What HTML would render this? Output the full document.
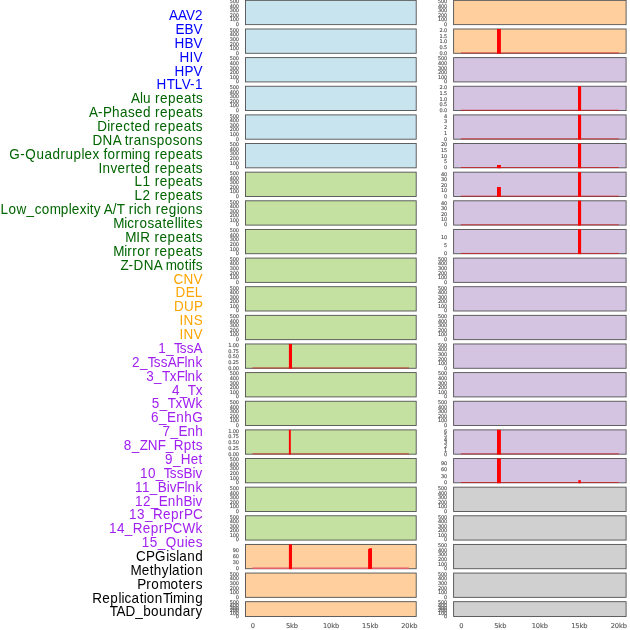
<!DOCTYPE html>
<html lang="en"><head><meta charset="utf-8"><title>Genomic feature tracks</title>
<style>html,body{margin:0;padding:0;background:#fff}svg{display:block}.lab{font-family:"Liberation Sans",Arial,Helvetica,sans-serif;font-size:13.5px;text-anchor:start}.yt{font-family:"DejaVu Sans","Liberation Sans",sans-serif;font-size:5.0px;text-anchor:end;fill:#555555;stroke:#555555;stroke-width:0.14px;letter-spacing:-0.15px}.xt{font-family:"DejaVu Sans","Liberation Sans",sans-serif;font-size:6.7px;text-anchor:middle;fill:#555555;stroke:#555555;stroke-width:0.1px;letter-spacing:-0.1px}</style></head><body>
<svg width="630" height="630" viewBox="0 0 630 630">
<rect width="630" height="630" fill="#ffffff"/>
<g class="lab">
<text transform="matrix(1 0 0 1.075 0 19.80)" x="168.97 178.00 186.03 195.06" y="0" fill="#0000ff">AAV2</text>
<text transform="matrix(1 0 0 1.075 0 33.80)" x="175.60 184.55 193.50" y="0" fill="#0000ff">EBV</text>
<text transform="matrix(1 0 0 1.075 0 47.80)" x="174.60 184.55 193.50" y="0" fill="#0000ff">HBV</text>
<text transform="matrix(1 0 0 1.075 0 61.80)" x="179.60 189.54 193.51" y="0" fill="#0000ff">HIV</text>
<text transform="matrix(1 0 0 1.075 0 75.80)" x="174.60 184.55 193.50" y="0" fill="#0000ff">HPV</text>
<text transform="matrix(1 0 0 1.075 0 88.80)" x="156.58 166.69 174.77 181.84 189.93 194.98" y="0" fill="#0000ff">HTLV-1</text>
<text transform="matrix(1 0 0 1.075 0 102.80)" x="130.97 139.96 142.96 150.95 154.95 159.94 167.93 175.92 183.91 191.90 195.90" y="0" fill="#006400">Alu repeats</text>
<text transform="matrix(1 0 0 1.075 0 116.80)" x="88.97 97.97 102.96 111.96 119.95 127.94 134.94 142.93 150.93 154.92 159.92 167.91 175.91 183.90 191.90 195.89" y="0" fill="#006400">A-Phased repeats</text>
<text transform="matrix(1 0 0 1.075 0 130.80)" x="97.18 107.25 110.27 115.30 123.36 130.41 134.43 142.49 150.54 154.57 159.60 167.66 175.71 183.76 191.82 195.84" y="0" fill="#006400">Directed repeats</text>
<text transform="matrix(1 0 0 1.075 0 144.80)" x="92.59 102.62 112.64 120.66 124.68 128.69 133.70 141.72 149.74 156.76 164.79 172.81 179.83 187.85 195.87" y="0" fill="#006400">DNA transposons</text>
<text transform="matrix(1 0 0 1.075 0 158.80)" x="9.32 20.35 25.37 36.40 44.42 52.45 60.47 65.48 73.51 81.53 84.54 92.56 99.58 103.60 107.61 115.63 120.65 131.68 134.69 142.71 150.74 154.75 159.76 167.79 175.81 183.83 191.86 195.87" y="0" fill="#006400">G-Quadruplex forming repeats</text>
<text transform="matrix(1 0 0 1.075 0 172.80)" x="98.45 102.46 110.50 117.53 125.56 130.58 134.60 142.63 150.67 154.69 159.71 167.74 175.78 183.81 191.84 195.86" y="0" fill="#006400">Inverted repeats</text>
<text transform="matrix(1 0 0 1.075 0 185.80)" x="134.59 142.62 150.66 154.68 159.70 167.73 175.77 183.81 191.84 195.86" y="0" fill="#006400">L1 repeats</text>
<text transform="matrix(1 0 0 1.075 0 199.80)" x="134.59 142.62 150.66 154.68 159.70 167.73 175.77 183.81 191.84 195.86" y="0" fill="#006400">L2 repeats</text>
<text transform="matrix(1 0 0 1.075 0 213.80)" x="0.59 8.60 16.61 26.63 34.64 41.65 49.66 60.68 68.69 71.69 79.71 86.72 89.72 93.73 100.74 103.74 112.76 116.76 124.77 128.78 133.79 136.79 143.80 151.81 155.82 160.83 168.84 176.85 179.86 187.87 195.88" y="0" fill="#006400">Low_complexity A/T rich regions</text>
<text transform="matrix(1 0 0 1.075 0 227.80)" x="113.18 124.27 127.29 134.35 139.39 147.45 154.51 162.57 166.61 174.67 177.69 180.72 183.74 187.77 195.84" y="0" fill="#006400">Microsatellites</text>
<text transform="matrix(1 0 0 1.075 0 241.80)" x="125.18 136.28 140.32 150.41 154.45 159.50 167.57 175.64 183.72 191.79 195.83" y="0" fill="#006400">MIR repeats</text>
<text transform="matrix(1 0 0 1.075 0 255.80)" x="113.18 124.27 127.29 132.33 137.37 145.44 150.48 154.51 159.55 167.61 175.68 183.74 191.80 195.84" y="0" fill="#006400">Mirror repeats</text>
<text transform="matrix(1 0 0 1.075 0 269.80)" x="120.57 128.60 133.62 143.66 153.70 161.73 165.75 176.79 184.82 188.84 191.85 195.86" y="0" fill="#006400">Z-DNA motifs</text>
<text transform="matrix(1 0 0 1.075 0 283.80)" x="173.62 183.56 193.51" y="0" fill="#ffa500">CNV</text>
<text transform="matrix(1 0 0 1.075 0 296.80)" x="175.58 185.68 194.77" y="0" fill="#ffa500">DEL</text>
<text transform="matrix(1 0 0 1.075 0 310.80)" x="173.88 183.96 194.05" y="0" fill="#ffa500">DUP</text>
<text transform="matrix(1 0 0 1.075 0 324.80)" x="179.42 183.53 193.80" y="0" fill="#ffa500">INS</text>
<text transform="matrix(1 0 0 1.075 0 338.80)" x="179.45 183.45 193.46" y="0" fill="#ffa500">INV</text>
<text transform="matrix(1 0 0 1.075 0 352.80)" x="158.29 166.14 173.98 179.87 186.73 193.60" y="0" fill="#a020f0">1_TssA</text>
<text transform="matrix(1 0 0 1.075 0 366.80)" x="132.03 139.95 147.88 153.83 160.76 167.70 176.62 184.54 187.52 195.44" y="0" fill="#a020f0">2_TssAFlnk</text>
<text transform="matrix(1 0 0 1.075 0 380.80)" x="146.19 154.08 161.96 169.85 176.75 184.64 187.59 195.48" y="0" fill="#a020f0">3_TxFlnk</text>
<text transform="matrix(1 0 0 1.075 0 394.80)" x="171.99 179.88 187.76 195.64" y="0" fill="#a020f0">4_Tx</text>
<text transform="matrix(1 0 0 1.075 0 407.80)" x="151.76 159.70 167.64 175.58 182.53 195.43" y="0" fill="#a020f0">5_TxWk</text>
<text transform="matrix(1 0 0 1.075 0 421.80)" x="151.01 159.07 167.13 176.21 184.27 192.33" y="0" fill="#a020f0">6_EnhG</text>
<text transform="matrix(1 0 0 1.075 0 435.80)" x="162.61 170.55 178.48 187.40 195.34" y="0" fill="#a020f0">7_Enh</text>
<text transform="matrix(1 0 0 1.075 0 449.80)" x="123.71 131.73 139.75 147.77 157.79 165.81 173.82 183.85 191.86 195.87" y="0" fill="#a020f0">8_ZNF_Rpts</text>
<text transform="matrix(1 0 0 1.075 0 463.80)" x="165.08 172.95 180.83 190.68 198.56" y="0" fill="#a020f0">9_Het</text>
<text transform="matrix(1 0 0 1.075 0 477.80)" x="139.98 147.91 155.84 163.78 169.73 176.67 183.61 192.53 195.51" y="0" fill="#a020f0">10_TssBiv</text>
<text transform="matrix(1 0 0 1.075 0 491.80)" x="134.98 141.92 149.85 157.78 166.70 169.67 176.61 184.54 187.51 195.44" y="0" fill="#a020f0">11_BivFlnk</text>
<text transform="matrix(1 0 0 1.075 0 505.80)" x="134.98 142.92 150.85 158.79 167.72 175.66 183.59 192.52 195.50" y="0" fill="#a020f0">12_EnhBiv</text>
<text transform="matrix(1 0 0 1.075 0 518.80)" x="128.97 136.96 144.96 152.95 162.95 170.94 178.93 183.93 192.92" y="0" fill="#a020f0">13_ReprPC</text>
<text transform="matrix(1 0 0 1.075 0 532.80)" x="108.98 116.93 124.88 132.82 142.76 150.71 158.66 163.63 172.57 182.51 195.42" y="0" fill="#a020f0">14_ReprPCWk</text>
<text transform="matrix(1 0 0 1.075 0 546.80)" x="141.67 149.70 157.73 165.75 176.79 184.82 187.84 195.86" y="0" fill="#a020f0">15_Quies</text>
<text transform="matrix(1 0 0 1.075 0 560.80)" x="136.01 146.05 155.09 166.13 169.14 176.17 179.18 187.21 195.24" y="0" fill="#000000">CPGisland</text>
<text transform="matrix(1 0 0 1.075 0 574.80)" x="130.58 141.69 149.77 153.81 161.88 168.95 171.98 180.06 184.10 187.13 195.21" y="0" fill="#000000">Methylation</text>
<text transform="matrix(1 0 0 1.075 0 588.80)" x="137.18 146.28 151.33 159.42 170.54 178.63 182.67 190.76 195.82" y="0" fill="#000000">Promoters</text>
<text transform="matrix(1 0 0 1.075 0 602.80)" x="92.18 102.28 110.36 118.44 121.47 124.50 131.57 139.65 143.69 146.72 154.80 162.88 169.95 172.98 184.09 187.12 195.20" y="0" fill="#000000">ReplicationTiming</text>
<text transform="matrix(1 0 0 1.075 0 615.80)" x="109.70 116.61 125.48 135.35 143.24 151.13 159.02 166.91 174.81 182.70 190.59 195.52" y="0" fill="#000000">TAD_boundary</text>
</g>
<rect x="245.50" y="0.35" width="170.70" height="24.30" fill="#c8e4ee" stroke="#505050" stroke-width="0.9"/>
<g class="yt">
<text x="238.90" y="26">0</text>
<text x="238.90" y="21">100</text>
<text x="238.90" y="17">200</text>
<text x="238.90" y="12">300</text>
<text x="238.90" y="8">400</text>
<text x="238.90" y="3">500</text>
</g>
<rect x="245.50" y="28.99" width="170.70" height="24.30" fill="#c8e4ee" stroke="#505050" stroke-width="0.9"/>
<g class="yt">
<text x="238.90" y="55">0</text>
<text x="238.90" y="50">100</text>
<text x="238.90" y="46">200</text>
<text x="238.90" y="41">300</text>
<text x="238.90" y="36">400</text>
<text x="238.90" y="32">500</text>
</g>
<rect x="245.50" y="57.62" width="170.70" height="24.30" fill="#c8e4ee" stroke="#505050" stroke-width="0.9"/>
<g class="yt">
<text x="238.90" y="83">0</text>
<text x="238.90" y="79">100</text>
<text x="238.90" y="74">200</text>
<text x="238.90" y="70">300</text>
<text x="238.90" y="65">400</text>
<text x="238.90" y="60">500</text>
</g>
<rect x="245.50" y="86.25" width="170.70" height="24.30" fill="#c8e4ee" stroke="#505050" stroke-width="0.9"/>
<g class="yt">
<text x="238.90" y="112">0</text>
<text x="238.90" y="107">100</text>
<text x="238.90" y="103">200</text>
<text x="238.90" y="98">300</text>
<text x="238.90" y="94">400</text>
<text x="238.90" y="89">500</text>
</g>
<rect x="245.50" y="114.89" width="170.70" height="24.30" fill="#c8e4ee" stroke="#505050" stroke-width="0.9"/>
<g class="yt">
<text x="238.90" y="141">0</text>
<text x="238.90" y="136">100</text>
<text x="238.90" y="131">200</text>
<text x="238.90" y="127">300</text>
<text x="238.90" y="122">400</text>
<text x="238.90" y="118">500</text>
</g>
<rect x="245.50" y="143.53" width="170.70" height="24.30" fill="#c8e4ee" stroke="#505050" stroke-width="0.9"/>
<g class="yt">
<text x="238.90" y="169">0</text>
<text x="238.90" y="165">100</text>
<text x="238.90" y="160">200</text>
<text x="238.90" y="155">300</text>
<text x="238.90" y="151">400</text>
<text x="238.90" y="146">500</text>
</g>
<rect x="245.50" y="172.16" width="170.70" height="24.30" fill="#c5e1a1" stroke="#505050" stroke-width="0.9"/>
<g class="yt">
<text x="238.90" y="198">0</text>
<text x="238.90" y="193">100</text>
<text x="238.90" y="189">200</text>
<text x="238.90" y="184">300</text>
<text x="238.90" y="180">400</text>
<text x="238.90" y="175">500</text>
</g>
<rect x="245.50" y="200.80" width="170.70" height="24.30" fill="#c5e1a1" stroke="#505050" stroke-width="0.9"/>
<g class="yt">
<text x="238.90" y="226">0</text>
<text x="238.90" y="222">100</text>
<text x="238.90" y="217">200</text>
<text x="238.90" y="213">300</text>
<text x="238.90" y="208">400</text>
<text x="238.90" y="204">500</text>
</g>
<rect x="245.50" y="229.43" width="170.70" height="24.30" fill="#c5e1a1" stroke="#505050" stroke-width="0.9"/>
<g class="yt">
<text x="238.90" y="255">0</text>
<text x="238.90" y="251">100</text>
<text x="238.90" y="246">200</text>
<text x="238.90" y="241">300</text>
<text x="238.90" y="237">400</text>
<text x="238.90" y="232">500</text>
</g>
<rect x="245.50" y="258.07" width="170.70" height="24.30" fill="#c5e1a1" stroke="#505050" stroke-width="0.9"/>
<g class="yt">
<text x="238.90" y="284">0</text>
<text x="238.90" y="279">100</text>
<text x="238.90" y="275">200</text>
<text x="238.90" y="270">300</text>
<text x="238.90" y="265">400</text>
<text x="238.90" y="261">500</text>
</g>
<rect x="245.50" y="286.70" width="170.70" height="24.30" fill="#c5e1a1" stroke="#505050" stroke-width="0.9"/>
<g class="yt">
<text x="238.90" y="312">0</text>
<text x="238.90" y="308">100</text>
<text x="238.90" y="303">200</text>
<text x="238.90" y="299">300</text>
<text x="238.90" y="294">400</text>
<text x="238.90" y="290">500</text>
</g>
<rect x="245.50" y="315.34" width="170.70" height="24.30" fill="#c5e1a1" stroke="#505050" stroke-width="0.9"/>
<g class="yt">
<text x="238.90" y="341">0</text>
<text x="238.90" y="336">100</text>
<text x="238.90" y="332">200</text>
<text x="238.90" y="327">300</text>
<text x="238.90" y="323">400</text>
<text x="238.90" y="318">500</text>
</g>
<rect x="245.50" y="343.97" width="170.70" height="24.30" fill="#c5e1a1" stroke="#505050" stroke-width="0.9"/>
<rect x="252.40" y="367.47" width="156.50" height="0.9" fill="#d81010" opacity="0.75"/>
<rect x="288.90" y="343.92" width="3.10" height="24.75" fill="#ff0000"/>
<g class="yt">
<text x="238.90" y="370">0.00</text>
<text x="238.90" y="364">0.25</text>
<text x="238.90" y="358">0.50</text>
<text x="238.90" y="353">0.75</text>
<text x="238.90" y="347">1.00</text>
</g>
<rect x="245.50" y="372.61" width="170.70" height="24.30" fill="#c5e1a1" stroke="#505050" stroke-width="0.9"/>
<g class="yt">
<text x="238.90" y="398">0</text>
<text x="238.90" y="394">100</text>
<text x="238.90" y="389">200</text>
<text x="238.90" y="385">300</text>
<text x="238.90" y="380">400</text>
<text x="238.90" y="375">500</text>
</g>
<rect x="245.50" y="401.24" width="170.70" height="24.30" fill="#c5e1a1" stroke="#505050" stroke-width="0.9"/>
<g class="yt">
<text x="238.90" y="427">0</text>
<text x="238.90" y="422">100</text>
<text x="238.90" y="418">200</text>
<text x="238.90" y="413">300</text>
<text x="238.90" y="409">400</text>
<text x="238.90" y="404">500</text>
</g>
<rect x="245.50" y="429.88" width="170.70" height="24.30" fill="#c5e1a1" stroke="#505050" stroke-width="0.9"/>
<rect x="252.40" y="453.38" width="156.50" height="0.9" fill="#d81010" opacity="0.75"/>
<rect x="288.90" y="429.83" width="1.90" height="24.75" fill="#ff0000"/>
<g class="yt">
<text x="238.90" y="456">0.00</text>
<text x="238.90" y="450">0.25</text>
<text x="238.90" y="444">0.50</text>
<text x="238.90" y="438">0.75</text>
<text x="238.90" y="433">1.00</text>
</g>
<rect x="245.50" y="458.51" width="170.70" height="24.30" fill="#c5e1a1" stroke="#505050" stroke-width="0.9"/>
<g class="yt">
<text x="238.90" y="484">0</text>
<text x="238.90" y="480">100</text>
<text x="238.90" y="475">200</text>
<text x="238.90" y="470">300</text>
<text x="238.90" y="466">400</text>
<text x="238.90" y="461">500</text>
</g>
<rect x="245.50" y="487.15" width="170.70" height="24.30" fill="#c5e1a1" stroke="#505050" stroke-width="0.9"/>
<g class="yt">
<text x="238.90" y="513">0</text>
<text x="238.90" y="508">100</text>
<text x="238.90" y="504">200</text>
<text x="238.90" y="499">300</text>
<text x="238.90" y="495">400</text>
<text x="238.90" y="490">500</text>
</g>
<rect x="245.50" y="515.78" width="170.70" height="24.30" fill="#c5e1a1" stroke="#505050" stroke-width="0.9"/>
<g class="yt">
<text x="238.90" y="541">0</text>
<text x="238.90" y="537">100</text>
<text x="238.90" y="532">200</text>
<text x="238.90" y="528">300</text>
<text x="238.90" y="523">400</text>
<text x="238.90" y="519">500</text>
</g>
<rect x="245.50" y="544.42" width="170.70" height="24.30" fill="#ffcf9e" stroke="#505050" stroke-width="0.9"/>
<rect x="252.40" y="567.47" width="156.50" height="1.6" fill="#e6606c"/>
<rect x="288.90" y="544.37" width="3.10" height="24.75" fill="#ff0000"/>
<path d="M368.10 569.12 V549.11 H369.00 V548.21 H372.00 V569.12 Z" fill="#ff0000"/>
<g class="yt">
<text x="238.90" y="570">0</text>
<text x="238.90" y="564">30</text>
<text x="238.90" y="558">60</text>
<text x="238.90" y="552">90</text>
</g>
<rect x="245.50" y="573.05" width="170.70" height="24.30" fill="#ffcf9e" stroke="#505050" stroke-width="0.9"/>
<g class="yt">
<text x="238.90" y="599">0</text>
<text x="238.90" y="594">100</text>
<text x="238.90" y="590">200</text>
<text x="238.90" y="585">300</text>
<text x="238.90" y="580">400</text>
<text x="238.90" y="576">500</text>
</g>
<rect x="245.50" y="601.69" width="170.70" height="14.85" fill="#ffcf9e" stroke="#505050" stroke-width="0.9"/>
<g class="yt">
<text x="238.90" y="618">0</text>
<text x="238.90" y="615">100</text>
<text x="238.90" y="612">200</text>
<text x="238.90" y="610">300</text>
<text x="238.90" y="607">400</text>
<text x="238.90" y="604">500</text>
</g>
<g class="xt">
<text x="252.85" y="627.8">0</text>
<text x="291.97" y="627.8">5kb</text>
<text x="331.10" y="627.8">10kb</text>
<text x="370.22" y="627.8">15kb</text>
<text x="409.35" y="627.8">20kb</text>
</g>
<rect x="453.60" y="0.35" width="172.50" height="24.30" fill="#ffcf9e" stroke="#505050" stroke-width="0.9"/>
<g class="yt">
<text x="447.00" y="26">0</text>
<text x="447.00" y="21">100</text>
<text x="447.00" y="17">200</text>
<text x="447.00" y="12">300</text>
<text x="447.00" y="8">400</text>
<text x="447.00" y="3">500</text>
</g>
<rect x="453.60" y="28.99" width="172.50" height="24.30" fill="#ffcf9e" stroke="#505050" stroke-width="0.9"/>
<rect x="460.90" y="52.49" width="158.00" height="0.9" fill="#d81010" opacity="0.75"/>
<rect x="497.00" y="28.94" width="3.90" height="24.75" fill="#ff0000"/>
<g class="yt">
<text x="447.00" y="55">0.0</text>
<text x="447.00" y="49">0.5</text>
<text x="447.00" y="43">1.0</text>
<text x="447.00" y="38">1.5</text>
<text x="447.00" y="32">2.0</text>
</g>
<rect x="453.60" y="57.62" width="172.50" height="24.30" fill="#d4c4e2" stroke="#505050" stroke-width="0.9"/>
<g class="yt">
<text x="447.00" y="83">0</text>
<text x="447.00" y="79">100</text>
<text x="447.00" y="74">200</text>
<text x="447.00" y="70">300</text>
<text x="447.00" y="65">400</text>
<text x="447.00" y="60">500</text>
</g>
<rect x="453.60" y="86.25" width="172.50" height="24.30" fill="#d4c4e2" stroke="#505050" stroke-width="0.9"/>
<rect x="460.90" y="109.75" width="158.00" height="0.9" fill="#d81010" opacity="0.75"/>
<rect x="578.00" y="86.20" width="3.10" height="24.75" fill="#ff0000"/>
<g class="yt">
<text x="447.00" y="112">0.0</text>
<text x="447.00" y="106">0.5</text>
<text x="447.00" y="101">1.0</text>
<text x="447.00" y="95">1.5</text>
<text x="447.00" y="89">2.0</text>
</g>
<rect x="453.60" y="114.89" width="172.50" height="24.30" fill="#d4c4e2" stroke="#505050" stroke-width="0.9"/>
<rect x="460.90" y="138.39" width="158.00" height="0.9" fill="#d81010" opacity="0.75"/>
<rect x="578.00" y="114.84" width="3.10" height="24.75" fill="#ff0000"/>
<g class="yt">
<text x="447.00" y="141">0</text>
<text x="447.00" y="135">1</text>
<text x="447.00" y="129">2</text>
<text x="447.00" y="123">3</text>
<text x="447.00" y="118">4</text>
</g>
<rect x="453.60" y="143.53" width="172.50" height="24.30" fill="#d4c4e2" stroke="#505050" stroke-width="0.9"/>
<rect x="460.90" y="167.03" width="158.00" height="0.9" fill="#d81010" opacity="0.75"/>
<rect x="497.00" y="165.00" width="3.90" height="3.23" fill="#ff0000"/>
<rect x="578.00" y="143.47" width="3.10" height="24.75" fill="#ff0000"/>
<g class="yt">
<text x="447.00" y="169">0</text>
<text x="447.00" y="163">5</text>
<text x="447.00" y="158">10</text>
<text x="447.00" y="152">15</text>
<text x="447.00" y="146">20</text>
</g>
<rect x="453.60" y="172.16" width="172.50" height="24.30" fill="#d4c4e2" stroke="#505050" stroke-width="0.9"/>
<rect x="460.90" y="195.66" width="158.00" height="0.9" fill="#d81010" opacity="0.75"/>
<rect x="497.00" y="186.98" width="3.90" height="9.88" fill="#ff0000"/>
<rect x="578.00" y="172.11" width="3.10" height="24.75" fill="#ff0000"/>
<g class="yt">
<text x="447.00" y="198">0</text>
<text x="447.00" y="192">10</text>
<text x="447.00" y="187">20</text>
<text x="447.00" y="181">30</text>
<text x="447.00" y="176">40</text>
</g>
<rect x="453.60" y="200.80" width="172.50" height="24.30" fill="#d4c4e2" stroke="#505050" stroke-width="0.9"/>
<rect x="460.90" y="224.30" width="158.00" height="0.9" fill="#d81010" opacity="0.75"/>
<rect x="578.00" y="200.75" width="3.10" height="24.75" fill="#ff0000"/>
<g class="yt">
<text x="447.00" y="226">0</text>
<text x="447.00" y="221">10</text>
<text x="447.00" y="216">20</text>
<text x="447.00" y="210">30</text>
<text x="447.00" y="205">40</text>
</g>
<rect x="453.60" y="229.43" width="172.50" height="24.30" fill="#d4c4e2" stroke="#505050" stroke-width="0.9"/>
<rect x="460.90" y="252.93" width="158.00" height="0.9" fill="#d81010" opacity="0.75"/>
<rect x="578.00" y="229.38" width="3.10" height="24.75" fill="#ff0000"/>
<g class="yt">
<text x="447.00" y="255">0</text>
<text x="447.00" y="247">5</text>
<text x="447.00" y="239">10</text>
</g>
<rect x="453.60" y="258.07" width="172.50" height="24.30" fill="#d4c4e2" stroke="#505050" stroke-width="0.9"/>
<g class="yt">
<text x="447.00" y="284">0</text>
<text x="447.00" y="279">100</text>
<text x="447.00" y="275">200</text>
<text x="447.00" y="270">300</text>
<text x="447.00" y="265">400</text>
<text x="447.00" y="261">500</text>
</g>
<rect x="453.60" y="286.70" width="172.50" height="24.30" fill="#d4c4e2" stroke="#505050" stroke-width="0.9"/>
<g class="yt">
<text x="447.00" y="312">0</text>
<text x="447.00" y="308">100</text>
<text x="447.00" y="303">200</text>
<text x="447.00" y="299">300</text>
<text x="447.00" y="294">400</text>
<text x="447.00" y="290">500</text>
</g>
<rect x="453.60" y="315.34" width="172.50" height="24.30" fill="#d4c4e2" stroke="#505050" stroke-width="0.9"/>
<g class="yt">
<text x="447.00" y="341">0</text>
<text x="447.00" y="336">100</text>
<text x="447.00" y="332">200</text>
<text x="447.00" y="327">300</text>
<text x="447.00" y="323">400</text>
<text x="447.00" y="318">500</text>
</g>
<rect x="453.60" y="343.97" width="172.50" height="24.30" fill="#d4c4e2" stroke="#505050" stroke-width="0.9"/>
<g class="yt">
<text x="447.00" y="370">0</text>
<text x="447.00" y="365">100</text>
<text x="447.00" y="361">200</text>
<text x="447.00" y="356">300</text>
<text x="447.00" y="351">400</text>
<text x="447.00" y="347">500</text>
</g>
<rect x="453.60" y="372.61" width="172.50" height="24.30" fill="#d4c4e2" stroke="#505050" stroke-width="0.9"/>
<g class="yt">
<text x="447.00" y="398">0</text>
<text x="447.00" y="394">100</text>
<text x="447.00" y="389">200</text>
<text x="447.00" y="385">300</text>
<text x="447.00" y="380">400</text>
<text x="447.00" y="375">500</text>
</g>
<rect x="453.60" y="401.24" width="172.50" height="24.30" fill="#d4c4e2" stroke="#505050" stroke-width="0.9"/>
<g class="yt">
<text x="447.00" y="427">0</text>
<text x="447.00" y="422">100</text>
<text x="447.00" y="418">200</text>
<text x="447.00" y="413">300</text>
<text x="447.00" y="409">400</text>
<text x="447.00" y="404">500</text>
</g>
<rect x="453.60" y="429.88" width="172.50" height="24.30" fill="#d4c4e2" stroke="#505050" stroke-width="0.9"/>
<rect x="460.90" y="453.38" width="158.00" height="0.9" fill="#d81010" opacity="0.75"/>
<rect x="497.00" y="429.83" width="3.90" height="24.75" fill="#ff0000"/>
<g class="yt">
<text x="447.00" y="456">0</text>
<text x="447.00" y="452">1</text>
<text x="447.00" y="448">2</text>
<text x="447.00" y="444">3</text>
<text x="447.00" y="441">4</text>
<text x="447.00" y="437">5</text>
<text x="447.00" y="433">6</text>
</g>
<rect x="453.60" y="458.51" width="172.50" height="24.30" fill="#d4c4e2" stroke="#505050" stroke-width="0.9"/>
<rect x="460.90" y="482.01" width="158.00" height="0.9" fill="#d81010" opacity="0.75"/>
<rect x="497.00" y="458.46" width="3.90" height="24.75" fill="#ff0000"/>
<rect x="578.30" y="480.17" width="2.50" height="3.04" fill="#ff0000"/>
<g class="yt">
<text x="447.00" y="484">0</text>
<text x="447.00" y="478">30</text>
<text x="447.00" y="471">60</text>
<text x="447.00" y="465">90</text>
</g>
<rect x="453.60" y="487.15" width="172.50" height="24.30" fill="#d0d0d0" stroke="#505050" stroke-width="0.9"/>
<g class="yt">
<text x="447.00" y="513">0</text>
<text x="447.00" y="508">100</text>
<text x="447.00" y="504">200</text>
<text x="447.00" y="499">300</text>
<text x="447.00" y="495">400</text>
<text x="447.00" y="490">500</text>
</g>
<rect x="453.60" y="515.78" width="172.50" height="24.30" fill="#d0d0d0" stroke="#505050" stroke-width="0.9"/>
<g class="yt">
<text x="447.00" y="541">0</text>
<text x="447.00" y="537">100</text>
<text x="447.00" y="532">200</text>
<text x="447.00" y="528">300</text>
<text x="447.00" y="523">400</text>
<text x="447.00" y="519">500</text>
</g>
<rect x="453.60" y="544.42" width="172.50" height="24.30" fill="#d0d0d0" stroke="#505050" stroke-width="0.9"/>
<g class="yt">
<text x="447.00" y="570">0</text>
<text x="447.00" y="566">100</text>
<text x="447.00" y="561">200</text>
<text x="447.00" y="556">300</text>
<text x="447.00" y="552">400</text>
<text x="447.00" y="547">500</text>
</g>
<rect x="453.60" y="573.05" width="172.50" height="24.30" fill="#d0d0d0" stroke="#505050" stroke-width="0.9"/>
<g class="yt">
<text x="447.00" y="599">0</text>
<text x="447.00" y="594">100</text>
<text x="447.00" y="590">200</text>
<text x="447.00" y="585">300</text>
<text x="447.00" y="580">400</text>
<text x="447.00" y="576">500</text>
</g>
<rect x="453.60" y="601.69" width="172.50" height="14.85" fill="#d0d0d0" stroke="#505050" stroke-width="0.9"/>
<g class="yt">
<text x="447.00" y="618">0</text>
<text x="447.00" y="615">100</text>
<text x="447.00" y="612">200</text>
<text x="447.00" y="610">300</text>
<text x="447.00" y="607">400</text>
<text x="447.00" y="604">500</text>
</g>
<g class="xt">
<text x="461.35" y="627.8">0</text>
<text x="500.25" y="627.8">5kb</text>
<text x="539.75" y="627.8">10kb</text>
<text x="579.25" y="627.8">15kb</text>
<text x="618.75" y="627.8">20kb</text>
</g>
</svg></body></html>
